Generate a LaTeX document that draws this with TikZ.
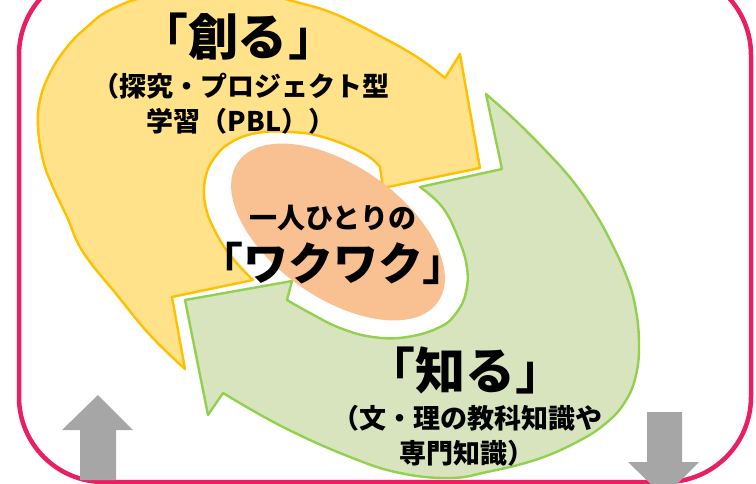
\documentclass[tikz,border=0pt]{standalone}
\usepackage{fontspec}
\setmainfont{Noto Sans CJK JP}
\newfontfamily\kagifont{Noto Sans CJK JP Light}
\usepackage{tikz}

\definecolor{framered}{RGB}{233,30,99}
\definecolor{yellowfill}{RGB}{255,226,138}
\definecolor{yellowline}{RGB}{255,192,0}
\definecolor{greenfill}{RGB}{216,228,190}
\definecolor{greenline}{RGB}{146,208,80}
\definecolor{wakufill}{RGB}{249,192,145}
\definecolor{arrowgray}{RGB}{166,166,166}

% thin corner brackets round a bold word
\newcommand{\kagi}[1]{{\kagifont 「}#1{\kagifont 」}}

\begin{document}
\begin{tikzpicture}[x=1pt, y=-1pt, line join=round, line cap=round,
	yellowarrow/.style={fill=yellowfill, draw=yellowline, line width=2.4pt},
	greenarrow/.style={fill=greenfill, draw=greenline, line width=2.4pt},
	bigtext/.style={font=\fontsize{50}{50}\selectfont\bfseries, inner sep=0pt},
	subtext/.style={font=\fontsize{27}{35}\selectfont\bfseries, align=center, inner sep=0pt}]
	\useasboundingbox (0,0) rectangle (756,483);
	\clip (0,0) rectangle (756,483);
	
	% Frame
	\draw[framered, line width=4.5pt, rounded corners=85pt] (19,-30) rectangle (751,482);
	
	% Yellow arrow (創る)
	\filldraw[yellowarrow] plot[smooth, tension=0.7] coordinates {(185,369) (150,335) (117,295) (83,252) (67,217) (52,185) (43,160) (38,127) (40,100) (50,73) (67,47) (87,27) (110,10) (150,-4) (210,-9) (260,-6) (300,3) (335,14) (378,35) (417,57) (445,78)}
		-- (460,54) -- (480,168) -- (383,188) -- (380,167)
		-- plot[smooth, tension=0.7] coordinates {(380,167) (363,153) (323,137) (290,132) (257,133) (230,143) (213,160) (205,180) (205,203) (213,227) (230,255) (253,280)}
		-- (172,297) -- cycle;
	
	% Green arrow (知る)
	\filldraw[greenarrow] plot[smooth, tension=0.7] coordinates {(486,94) (515,120) (545,150) (572,180) (595,213) (611,242) (626,275) (635,305) (639,342) (636,375) (625,402) (605,424) (575,443) (535,460) (487,472) (450,478) (400,473) (350,457) (283,427) (223,393)}
		-- (208,415) -- (185,300) -- (292,281) -- (287,300)
		-- plot[smooth, tension=0.7] coordinates {(287,300) (310,313) (340,328) (373,337) (407,337) (440,327) (457,312) (466,292) (467,268) (459,240) (443,208) (420,187)}
		-- (502,169) -- cycle;
	
	% Center ellipse
	\fill[wakufill, rotate around={-35:(338,232)}] (338,232) ellipse [x radius=122pt, y radius=66pt];
	
	% Gray arrows
	\fill[arrowgray] (98,395) -- (133,430) -- (116,430) -- (116,480) -- (80,480) -- (80,430) -- (62,430) -- cycle;
	\fill[arrowgray] (647,412) -- (682,412) -- (682,462) -- (699,462) -- (664,497) -- (628,462) -- (647,462) -- cycle;
	
	% Texts
	\node[bigtext] (tsukuru) at (238,37) {\kagi{創る}};
	\node[subtext] (tsukurusub) at (241,104) {（探究・プロジェクト型\\学習（PBL））};
	\node[font=\fontsize{28}{28}\selectfont\bfseries, inner sep=0pt] (hitori) at (333,218) {一人ひとりの};
	\node[font=\fontsize{45}{45}\selectfont\bfseries, inner sep=0pt] (wakuwaku) at (333,263) {\kagi{ワクワク}};
	\node[bigtext] (shiru) at (465,370) {\kagi{知る}};
	\node[subtext] (shirusub) at (467,436) {（文・理の教科知識や\\専門知識）};
\end{tikzpicture}
\end{document}
